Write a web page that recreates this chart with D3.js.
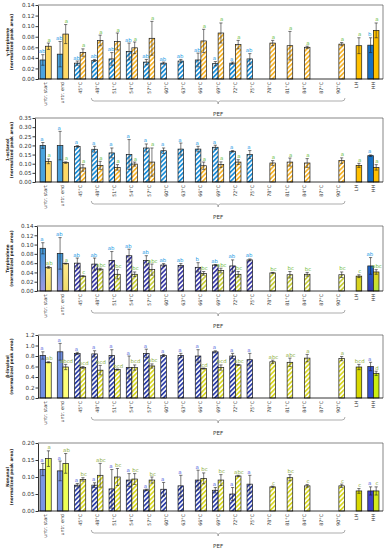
<!DOCTYPE html>
<html><head><meta charset="utf-8">
<script src="https://cdn.jsdelivr.net/npm/d3@7"></script>
<style>body{margin:0;background:#fff}svg{display:block}</style>
</head><body>
<script>
const categories = ["untr. start","untr. end","45°C","48°C","51°C","54°C","57°C","60°C","63°C","66°C","69°C","72°C","75°C","78°C","81°C","84°C","87°C","90°C","LH","HH"];
const N = null;

// Panel 1: γ-terpinene
const terpineneTicks = [0,0.02,0.04,0.06,0.08,0.10,0.12,0.14];
const terpineneBlue =      [0.036,0.047,0.030,0.035,0.038,0.052,0.032,0.030,0.034,0.036,0.029,0.030,0.038,N,N,N,N,N,N,0.064];
const terpineneBlueErr =   [0.010,0.024,0.004,0.002,0.012,0.016,0.005,0.002,0.003,0.013,0.004,0.002,0.010,N,N,N,N,N,N,0.014];
const terpineneYellow =    [0.062,0.085,0.050,0.073,0.071,0.059,0.077,N,N,0.072,0.087,0.065,N,0.068,0.063,0.060,N,0.066,0.063,0.092];
const terpineneYellowErr = [0.006,0.018,0.007,0.010,0.016,0.011,0.032,N,N,0.022,0.019,0.008,N,0.005,0.027,0.002,N,0.003,0.015,0.014];
const terpineneBlueLetters =   ["ab","ab","ab","ab","ab","ab","ab","ab","ab","ab","a","a","ab","","","","","","","b"];
const terpineneYellowLetters = ["a","a","a","a","a","a","a","","","a","a","a","","a","a","a","","a","a","a"];

// Panel 2: 1-octanol
const octanolTicks = [0,0.05,0.10,0.15,0.20,0.25,0.30,0.35];
const octanolBlue =      [0.200,0.199,0.195,0.179,0.159,0.150,0.186,0.171,0.180,0.180,0.190,0.168,0.150,N,N,N,N,N,N,0.144];
const octanolBlueErr =   [0.016,0.078,0.004,0.016,0.027,0.082,0.022,0.015,0.033,0.015,0.011,0.004,0.022,N,N,N,N,N,N,0.004];
const octanolYellow =    [0.113,0.106,0.077,0.091,0.080,0.098,0.109,N,N,0.089,0.095,0.109,N,0.104,0.109,0.104,N,0.117,0.091,0.080];
const octanolYellowErr = [0.013,0.004,0.018,0.022,0.015,0.011,0.077,N,N,0.020,0.015,0.013,N,0.013,0.022,0.024,N,0.015,0.011,0.015];
const octanolBlueLetters =   ["a","a","a","a","a","a","a","a","a","a","a","a","a","","","","","","","a"];
const octanolYellowLetters = ["a","a","a","a","a","a","a","","","a","a","a","","a","a","a","","a","a","a"];

// Panel 3: Terpinolene
const terpinoleneTicks = [0,0.02,0.04,0.06,0.08,0.10,0.12,0.14];
const terpinoleneBlue =      [0.092,0.081,0.060,0.058,0.066,0.076,0.066,0.056,0.055,0.051,0.056,0.054,0.067,N,N,N,N,N,N,0.054];
const terpinoleneBlueErr =   [0.012,0.034,0.011,0.013,0.019,0.014,0.010,0.003,0.004,0.010,0.001,0.013,0.002,N,N,N,N,N,N,0.018];
const terpinoleneYellow =    [0.051,0.059,0.032,0.047,0.036,0.036,0.046,N,N,0.038,0.044,0.036,N,0.039,0.035,0.036,N,0.035,0.032,0.041];
const terpinoleneYellowErr = [0.002,0.001,0.001,0.002,0.010,0.005,0.012,N,N,0.004,0.005,0.006,N,0.001,0.007,0.004,N,0.006,0.003,0.005];
const terpinoleneBlueLetters =   ["a","ab","ab","ab","ab","ab","ab","ab","ab","b","ab","ab","ab","","","","","","","ab"];
const terpinoleneYellowLetters = ["ab","a","c","abc","bc","bc","abc","","","bc","abc","bc","","bc","bc","bc","","bc","c","abc"];

// Panel 4: β-linalool
const linaloolTicks = [0,0.2,0.4,0.6,0.8,1.0,1.2];
const linaloolBlue =      [0.81,0.88,0.85,0.84,0.81,0.58,0.85,0.81,0.81,0.80,0.88,0.80,0.73,N,N,N,N,N,N,0.60];
const linaloolBlueErr =   [0.07,0.16,0.02,0.06,0.11,0.22,0.08,0.02,0.04,0.12,0.02,0.05,0.12,N,N,N,N,N,N,0.08];
const linaloolYellow =    [0.68,0.59,0.58,0.53,0.54,0.58,0.61,N,N,0.56,0.58,0.63,N,0.69,0.68,0.76,N,0.75,0.59,0.47];
const linaloolYellowErr = [0.01,0.05,0.02,0.09,0.01,0.05,0.04,N,N,0.01,0.05,0.01,N,0.03,0.08,0.07,N,0.04,0.05,0.04];
const linaloolBlueLetters =   ["a","a","a","a","a","a","a","a","a","a","a","a","a","","","","","","","a"];
const linaloolYellowLetters = ["ab","abcd","bcd","bcd","bcd","bcd","abc","","","cd","bcd","abc","","abc","abc","a","","a","bcd","d"];

// Panel 5: Nonanal
const nonanalTicks = [0,0.05,0.10,0.15,0.20];
const nonanalBlue =      [0.122,0.118,0.076,0.076,0.065,0.091,0.062,0.064,0.074,0.091,0.061,0.050,0.079,N,N,N,N,N,N,0.059];
const nonanalBlueErr =   [0.018,0.029,0.005,0.007,0.057,0.019,0.002,0.020,0.031,0.029,0.008,0.019,0.026,N,N,N,N,N,N,0.012];
const nonanalYellow =    [0.154,0.140,0.093,0.105,0.100,0.094,0.091,N,N,0.096,0.091,0.103,N,0.071,0.098,0.074,N,0.074,0.059,0.059];
const nonanalYellowErr = [0.023,0.029,0.005,0.035,0.025,0.016,0.009,N,N,0.016,0.016,0.002,N,0.002,0.009,0.004,N,0.005,0.007,0.012];
const nonanalBlueLetters =   ["a","a","a","a","a","a","a","a","a","a","a","a","a","","","","","","","a"];
const nonanalYellowLetters = ["a","ab","bc","abc","bc","bc","bc","","","bc","bc","abc","","c","bc","c","","c","c","c"];

// ---- styles ----
const palA = {untrB:"#4AA3DE", hatchB:"#1B8FD9", hhB:"#1670C4", untrY:"#FFD966", hatchY:"#F7B52C", lhY:"#FFC000", hhY:"#FFC000", letB:"#2AA0E6", letY:"#6CC04A"};
const palB = {untrB:["#3F9ADB","#9C98E2"], hatchB:"#3B3BA8", hhB:["#1A66C8","#3C3CB0"], untrY:["#FFEA8C","#F0DC6A"], hatchY:"#C9CF3A", lhY:"#D7D21F", hhY:["#E8D41E","#B4E63A"], letB:"#2AA0E6", letY:"#79C04A"};
const palC = {untrB:"#6F8FE2", hatchB:"#2D3FA8", hhB:"#3551CF", untrY:"#FFFF77", hatchY:"#D9D926", lhY:"#D8D800", hhY:"#CCEE11", letB:"#6373E0", letY:"#93B24B"};
const palD = {untrB:"#7A95E3", hatchB:"#2D3FA8", hhB:"#4040C8", untrY:"#EEFF55", hatchY:"#D9D926", lhY:"#D8D800", hhY:"#D6EA1E", letB:"#5A6BE0", letY:"#93B24B"};

const panels = [
  {title:"γ-terpinene", blue:terpineneBlue, blueErr:terpineneBlueErr, yellow:terpineneYellow, yellowErr:terpineneYellowErr, bl:terpineneBlueLetters, yl:terpineneYellowLetters, ticks:terpineneTicks, fmt:".2f", top:5, bottom:79, axisX:38, pal:palA},
  {title:"1-octanol", blue:octanolBlue, blueErr:octanolBlueErr, yellow:octanolYellow, yellowErr:octanolYellowErr, bl:octanolBlueLetters, yl:octanolYellowLetters, ticks:octanolTicks, fmt:".2f", top:118, bottom:182, axisX:35, pal:palA},
  {title:"Terpinolene", blue:terpinoleneBlue, blueErr:terpinoleneBlueErr, yellow:terpinoleneYellow, yellowErr:terpinoleneYellowErr, bl:terpinoleneBlueLetters, yl:terpinoleneYellowLetters, ticks:terpinoleneTicks, fmt:".2f", top:226, bottom:291, axisX:37, pal:palB},
  {title:"β-linalool", blue:linaloolBlue, blueErr:linaloolBlueErr, yellow:linaloolYellow, yellowErr:linaloolYellowErr, bl:linaloolBlueLetters, yl:linaloolYellowLetters, ticks:linaloolTicks, fmt:".1f", top:335, bottom:398, axisX:38, pal:palC},
  {title:"Nonanal", blue:nonanalBlue, blueErr:nonanalBlueErr, yellow:nonanalYellow, yellowErr:nonanalYellowErr, bl:nonanalBlueLetters, yl:nonanalYellowLetters, ticks:nonanalTicks, fmt:".2f", top:443, bottom:511, axisX:38, pal:palD}
];

const W = 386, H = 550, RIGHT = 383;
const svg = d3.select("body").append("svg").attr("width", W).attr("height", H);
const defs = svg.append("defs");
const x = d3.scaleBand().domain(categories).range([37, 382]);
const BW = 5.6;
const sub = d3.scaleBand().domain(["b","y"]).range([0, 2*BW]);
const FONT = "DejaVu Sans, Verdana, sans-serif";

let gid = 0;
function paint(c) {
  if (Array.isArray(c)) {
    const id = "g" + (gid++);
    const lg = defs.append("linearGradient").attr("id", id).attr("x1",0).attr("y1",0).attr("x2",0).attr("y2",1);
    lg.append("stop").attr("offset","0%").attr("stop-color", c[0]);
    lg.append("stop").attr("offset","100%").attr("stop-color", c[1]);
    return `url(#${id})`;
  }
  return c;
}
function hatch(color) {
  const id = "h" + (gid++);
  const s = 3.3;
  const p = defs.append("pattern").attr("id", id).attr("patternUnits","userSpaceOnUse")
    .attr("width", s).attr("height", s).attr("patternTransform","rotate(45)");
  p.append("rect").attr("width", s).attr("height", s).attr("fill","#fff");
  p.append("rect").attr("width", 1.75).attr("height", s).attr("fill", color);
  return `url(#${id})`;
}
function kind(i){ return i < 2 ? "untr" : (i === 18 ? "lh" : (i === 19 ? "hh" : "hatch")); }

panels.forEach((P) => {
  const g = svg.append("g");
  const y = d3.scaleLinear().domain([0, P.ticks[P.ticks.length-1]]).range([P.bottom, P.top]);
  const pal = P.pal;
  const fills = {
    b: {untr: paint(pal.untrB), hatch: hatch(pal.hatchB), hh: paint(pal.hhB)},
    y: {untr: paint(pal.untrY), hatch: hatch(pal.hatchY), lh: paint(pal.lhY), hh: paint(pal.hhY)}
  };

  // box
  g.append("line").attr("x1", P.axisX).attr("x2", RIGHT).attr("y1", P.top).attr("y2", P.top).attr("stroke","#555").attr("stroke-width",0.7);
  g.append("line").attr("x1", RIGHT).attr("x2", RIGHT).attr("y1", P.top).attr("y2", P.bottom).attr("stroke","#555").attr("stroke-width",0.7);

  // y axis
  const ax = g.append("g").attr("transform", `translate(${P.axisX},0)`)
    .call(d3.axisLeft(y).tickValues(P.ticks).tickFormat(d3.format(P.fmt)).tickSize(2.5).tickSizeOuter(0));
  ax.selectAll("path,line").attr("stroke","#000").attr("stroke-width",0.8);
  ax.selectAll("text").attr("font-family", FONT).attr("font-size", 5.6).attr("fill","#333").attr("x",-3.5);

  // y title
  const cy = (P.top + P.bottom)/2;
  g.append("text").attr("transform", `translate(8.6,${cy}) rotate(-90)`).attr("text-anchor","middle")
    .attr("font-family", FONT).attr("font-weight","bold").attr("font-size",4.3).attr("fill","#222").text(P.title);
  g.append("text").attr("transform", `translate(13.2,${cy}) rotate(-90)`).attr("text-anchor","middle")
    .attr("font-family", FONT).attr("font-weight","bold").attr("font-size",4.3).attr("fill","#222").text("(normalized peak area)");

  // bars
  const rows = [];
  categories.forEach((c, i) => {
    if (P.blue[i] != null) rows.push({c, i, s:"b", v:P.blue[i], e:P.blueErr[i], l:P.bl[i]});
    if (P.yellow[i] != null) rows.push({c, i, s:"y", v:P.yellow[i], e:P.yellowErr[i], l:P.yl[i]});
  });
  const bx = d => x(d.c) + (x.bandwidth() - 2*BW)/2 + sub(d.s);

  g.selectAll("rect.bar").data(rows).join("rect").attr("class","bar")
    .attr("x", bx).attr("width", BW)
    .attr("y", d => y(d.v)).attr("height", d => y(0) - y(d.v))
    .attr("fill", d => fills[d.s][kind(d.i)])
    .attr("stroke","#1a1a1a").attr("stroke-width",0.7);

  // error bars
  const eb = g.selectAll("g.err").data(rows).join("g").attr("class","err")
    .attr("stroke","#222").attr("stroke-width",0.6);
  eb.append("line").attr("x1", d => bx(d)+BW/2).attr("x2", d => bx(d)+BW/2)
    .attr("y1", d => y(Math.max(0,d.v-d.e))).attr("y2", d => y(d.v+d.e));
  eb.append("line").attr("x1", d => bx(d)+BW/2-1.6).attr("x2", d => bx(d)+BW/2+1.6)
    .attr("y1", d => y(d.v+d.e)).attr("y2", d => y(d.v+d.e));
  eb.append("line").attr("x1", d => bx(d)+BW/2-1.6).attr("x2", d => bx(d)+BW/2+1.6)
    .attr("y1", d => y(Math.max(0,d.v-d.e))).attr("y2", d => y(Math.max(0,d.v-d.e)));

  // letters (blue ones lean left, yellow ones lean right, as in the original)
  g.selectAll("text.let").data(rows.filter(d => d.l)).join("text").attr("class","let")
    .attr("x", d => bx(d)+BW/2 + (d.s === "b" ? -0.8 : 0.8)).attr("y", d => y(d.v+d.e) - 1.5)
    .attr("text-anchor","middle").attr("font-family", FONT).attr("font-size",5.4)
    .attr("fill", d => d.s === "b" ? pal.letB : pal.letY).text(d => d.l);

  // x axis line
  g.append("line").attr("x1", P.axisX).attr("x2", RIGHT).attr("y1", P.bottom).attr("y2", P.bottom).attr("stroke","#000").attr("stroke-width",0.8);

  // x labels
  g.selectAll("text.xl").data(categories).join("text").attr("class","xl")
    .attr("transform", d => `translate(${x(d)+x.bandwidth()/2+1.6},${P.bottom+3}) rotate(-90)`)
    .attr("text-anchor","end").attr("font-family", FONT).attr("font-size",4.8).attr("fill","#333").text(d => d);

  // PEF bracket
  const x1 = x("48°C") + (x.bandwidth()-2*BW)/2 - 0.5;
  const x2 = x("90°C") + (x.bandwidth()+2*BW)/2 + 0.5;
  const mid = (x1 + x2)/2, by = P.bottom + 22;
  g.append("path")
    .attr("d", `M${x1},${by-3} Q${x1},${by} ${x1+3},${by} L${mid-2},${by} Q${mid},${by} ${mid},${by+3} Q${mid},${by} ${mid+2},${by} L${x2-3},${by} Q${x2},${by} ${x2},${by-3}`)
    .attr("fill","none").attr("stroke","#777").attr("stroke-width",0.6);
  g.append("text").attr("x", mid).attr("y", P.bottom + 37).attr("text-anchor","middle")
    .attr("font-family", FONT).attr("font-size",5.6).attr("fill","#333").text("PEF");
});
</script>
</body></html>
